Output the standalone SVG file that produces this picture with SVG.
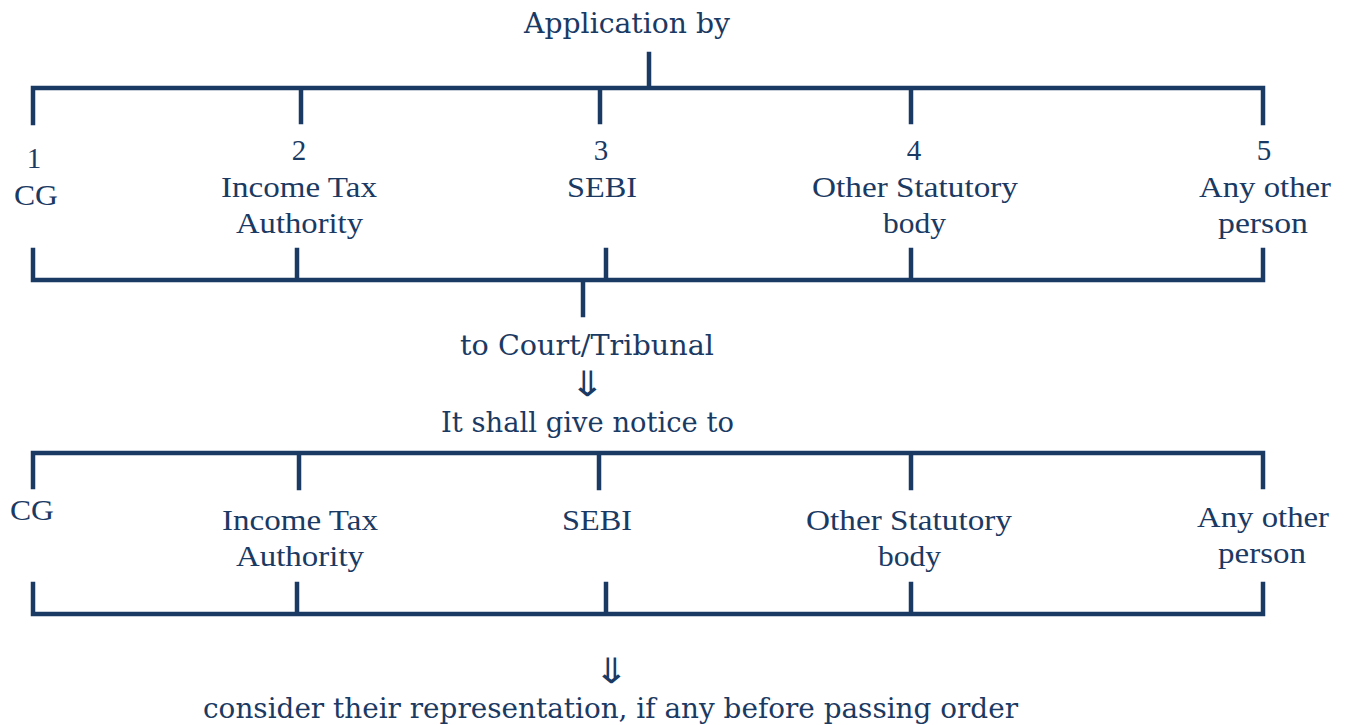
<svg xmlns="http://www.w3.org/2000/svg" width="1346" height="725" viewBox="0 0 1346 725">
<style>
.ln{stroke:#1b3a63;stroke-width:4.5;fill:none;stroke-linecap:square;stroke-linejoin:miter}
.t{font-family:"Liberation Serif","Times New Roman",serif;font-size:29px;fill:#1b3a63;text-anchor:middle}
.c{font-family:"DejaVu Serif",serif;font-size:27px;fill:#1b3a63;text-anchor:middle}
.a{font-family:"DejaVu Sans","Noto Sans",sans-serif;font-size:35px;fill:#1b3a63;text-anchor:middle}
</style>
<rect width="1346" height="725" fill="#ffffff"/>
<g id="connectors">
<path class="ln" d="M649,54 V88 M33,123 V88 H1263 V123 M301,88 V122 M600,88 V122 M911,88 V122"/>
<path class="ln" d="M33,250 V280 H1263 V250 M297,250 V280 M606,250 V280 M911,250 V280 M583,280 V315"/>
<path class="ln" d="M33,487 V453 H1263 V487 M299,453 V488 M599,453 V488 M911,453 V488"/>
<path class="ln" d="M33,584 V614 H1263 V584 M297,584 V614 M606,584 V614 M911,584 V614"/>
</g>
<g id="title"><text class="c" x="627" y="33" textLength="206" lengthAdjust="spacingAndGlyphs">Application by</text></g>
<g id="n1"><text class="t" x="34" y="168">1</text><text class="t" x="36" y="205" textLength="44" lengthAdjust="spacingAndGlyphs">CG</text></g>
<g id="n2"><text class="t" x="299" y="160">2</text><text class="t" x="299" y="197" textLength="156" lengthAdjust="spacingAndGlyphs">Income Tax</text><text class="t" x="299.5" y="233" textLength="127" lengthAdjust="spacingAndGlyphs">Authority</text></g>
<g id="n3"><text class="t" x="601" y="160">3</text><text class="t" x="602" y="197" textLength="70" lengthAdjust="spacingAndGlyphs">SEBI</text></g>
<g id="n4"><text class="t" x="914" y="160">4</text><text class="t" x="915" y="197" textLength="206" lengthAdjust="spacingAndGlyphs">Other Statutory</text><text class="t" x="914.5" y="233" textLength="63" lengthAdjust="spacingAndGlyphs">body</text></g>
<g id="n5"><text class="t" x="1264" y="160">5</text><text class="t" x="1265" y="197" textLength="132" lengthAdjust="spacingAndGlyphs">Any other</text><text class="t" x="1263" y="233" textLength="90" lengthAdjust="spacingAndGlyphs">person</text></g>
<g id="court"><text class="c" x="587" y="355" textLength="254" lengthAdjust="spacingAndGlyphs">to Court/Tribunal</text><text class="a" transform="translate(587,396) scale(1.2,1)">⇓</text><text class="c" x="587.5" y="432" textLength="293" lengthAdjust="spacingAndGlyphs">It shall give notice to</text></g>
<g id="m1"><text class="t" x="32" y="520" textLength="44" lengthAdjust="spacingAndGlyphs">CG</text></g>
<g id="m2"><text class="t" x="300" y="530" textLength="156" lengthAdjust="spacingAndGlyphs">Income Tax</text><text class="t" x="300" y="566" textLength="128" lengthAdjust="spacingAndGlyphs">Authority</text></g>
<g id="m3"><text class="t" x="597" y="530" textLength="70" lengthAdjust="spacingAndGlyphs">SEBI</text></g>
<g id="m4"><text class="t" x="909" y="530" textLength="206" lengthAdjust="spacingAndGlyphs">Other Statutory</text><text class="t" x="909.5" y="566" textLength="63" lengthAdjust="spacingAndGlyphs">body</text></g>
<g id="m5"><text class="t" x="1263" y="527" textLength="132" lengthAdjust="spacingAndGlyphs">Any other</text><text class="t" x="1262" y="563" textLength="88" lengthAdjust="spacingAndGlyphs">person</text></g>
<g id="result"><text class="a" transform="translate(611,683) scale(1.2,1)">⇓</text><text class="c" x="610.5" y="718" textLength="815" lengthAdjust="spacingAndGlyphs">consider their representation, if any before passing order</text></g>
</svg>
